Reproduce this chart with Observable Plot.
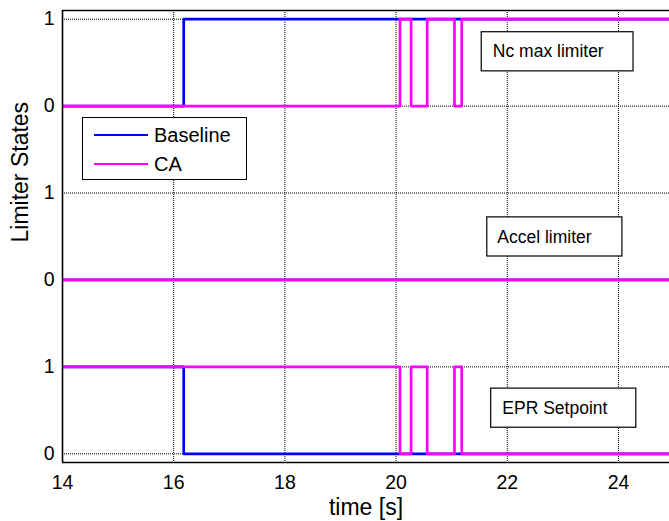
<!DOCTYPE html>
<html>
<head>
<meta charset="utf-8">
<script src="https://cdn.jsdelivr.net/npm/d3@7"></script>
<script src="https://cdn.jsdelivr.net/npm/@observablehq/plot@0.6"></script>
<style>
  html, body { margin: 0; padding: 0; background: #fff; }
  #wrap { position: relative; width: 669px; height: 521px; font-family: "Liberation Sans", Arial, sans-serif; }
  #wrap svg g[aria-label$="tick label"], #wrap svg g[aria-label$="tick label"] text { font-size: 19.5px !important; }
  #legend { position: absolute; left: 82px; top: 117px; width: 163px; height: 61px; border: 1.5px solid #000; background: #fff; box-sizing: content-box; }
  .row { position: absolute; left: 0; height: 24px; display: flex; align-items: center; font-size: 20px; color: #000; }
  .sw { width: 54px; height: 0; border-top: 2.5px solid; margin-left: 11px; margin-right: 6px; }
</style>
</head>
<body>
<div id="wrap"></div>
<script>
// ---- data ----
const seriesNames = ["Baseline", "CA"];
const seriesColors = ["#0000ff", "#ff00ff"];
const limiterNames = ["Nc max limiter", "Accel limiter", "EPR Setpoint"];
const limiterOffsets = [4, 2, 0];           // stacked position of each limiter's 0 level

// Baseline: switching times and states
const baselineTimes = [14, 16.18, 25];
const baselineNc    = [0, 1, 1];
const baselineAccel = [0, 0, 0];
const baselineEPR   = [1, 0, 0];

// CA: switching times and states
const caTimes = [14, 20.07, 20.27, 20.56, 21.05, 21.18, 25];
const caNc    = [0, 1, 0, 1, 0, 1, 1];
const caAccel = [0, 0, 0, 0, 0, 0, 0];
const caEPR   = [1, 0, 1, 0, 1, 0, 0];

const xTicks = [14, 16, 18, 20, 22, 24];
const yTicks = [0, 1, 2, 3, 4, 5];
const yTickLabels = ["0", "1", "0", "1", "0", "1"];

// ---- build table ----
const rows = [];
function add(series, limiter, times, states) {
  const off = limiterOffsets[limiterNames.indexOf(limiter)];
  times.forEach((t, i) => rows.push({series, limiter, key: series + "|" + limiter, t, v: states[i] + off}));
}
add("Baseline", "Nc max limiter", baselineTimes, baselineNc);
add("Baseline", "Accel limiter", baselineTimes, baselineAccel);
add("Baseline", "EPR Setpoint", baselineTimes, baselineEPR);
add("CA", "Nc max limiter", caTimes, caNc);
add("CA", "Accel limiter", caTimes, caAccel);
add("CA", "EPR Setpoint", caTimes, caEPR);

// annotation boxes (time / stacked-level coordinates)
const boxes = [
  {label: "Nc max limiter", x1: 21.54, x2: 24.27, y1: 4.40, y2: 4.85, tx: 21.74, ty: 4.625},
  {label: "Accel limiter",  x1: 21.64, x2: 24.07, y1: 2.27, y2: 2.72, tx: 21.82, ty: 2.495},
  {label: "EPR Setpoint",   x1: 21.71, x2: 24.32, y1: 0.30, y2: 0.75, tx: 21.91, ty: 0.525}
];

const gridStyle = {stroke: "#000", strokeOpacity: 1, strokeWidth: 1, strokeDasharray: "1,1"};

const chart = Plot.plot({
  width: 669,
  height: 521,
  marginLeft: 62,
  marginRight: 0,
  marginTop: 10,
  marginBottom: 59,
  style: {fontFamily: "'Liberation Sans', Arial, sans-serif", fontSize: "19px", color: "#000", background: "#fff"},
  x: {domain: [14, 24.917]},
  y: {domain: [-0.1, 5.1]},
  marks: [
    Plot.gridX(xTicks.slice(1), gridStyle),
    Plot.gridY(yTicks, gridStyle),
    Plot.line(rows.filter(d => d.series === "Baseline"), {x: "t", y: "v", z: "key", stroke: seriesColors[0], strokeWidth: 2.7, curve: "step-after", clip: true}),
    Plot.line(rows.filter(d => d.series === "CA"), {x: "t", y: "v", z: "key", stroke: seriesColors[1], strokeWidth: 2.7, curve: "step-after", clip: true}),
    Plot.ruleX([14], {stroke: "#000", strokeWidth: 1.6}),
    Plot.ruleY([-0.1, 5.1], {stroke: "#000", strokeWidth: 1.6}),
    Plot.rect(boxes, {x1: "x1", x2: "x2", y1: "y1", y2: "y2", fill: "#fff", stroke: "#000", strokeWidth: 1.2}),
    Plot.text(boxes, {x: "tx", y: "ty", text: "label", textAnchor: "start", fontSize: 17.5, fill: "#000"}),
    Plot.axisX(xTicks, {tickSize: 0, tickPadding: 13, fontSize: 19.5, label: null}),
    Plot.axisY(yTicks, {tickSize: 0, tickPadding: 8, fontSize: 19.5, label: null, tickFormat: (d) => yTickLabels[yTicks.indexOf(d)]}),
    Plot.text(["time [s]"], {frameAnchor: "bottom", dy: 52, fontSize: 23, fill: "#000"}),
    Plot.text(["Limiter States"], {frameAnchor: "left", rotate: -90, dx: -42, dy: 6, fontSize: 23, fill: "#000"})
  ]
});

const wrap = document.getElementById("wrap");
wrap.appendChild(chart);

// legend
const legend = document.createElement("div");
legend.id = "legend";
seriesNames.forEach((name, i) => {
  const row = document.createElement("div");
  row.className = "row";
  row.style.top = (i === 0 ? 5 : 34) + "px";
  const sw = document.createElement("span");
  sw.className = "sw";
  sw.style.borderColor = seriesColors[i];
  const tx = document.createElement("span");
  tx.textContent = name;
  row.appendChild(sw);
  row.appendChild(tx);
  legend.appendChild(row);
});
wrap.appendChild(legend);
</script>
</body>
</html>
